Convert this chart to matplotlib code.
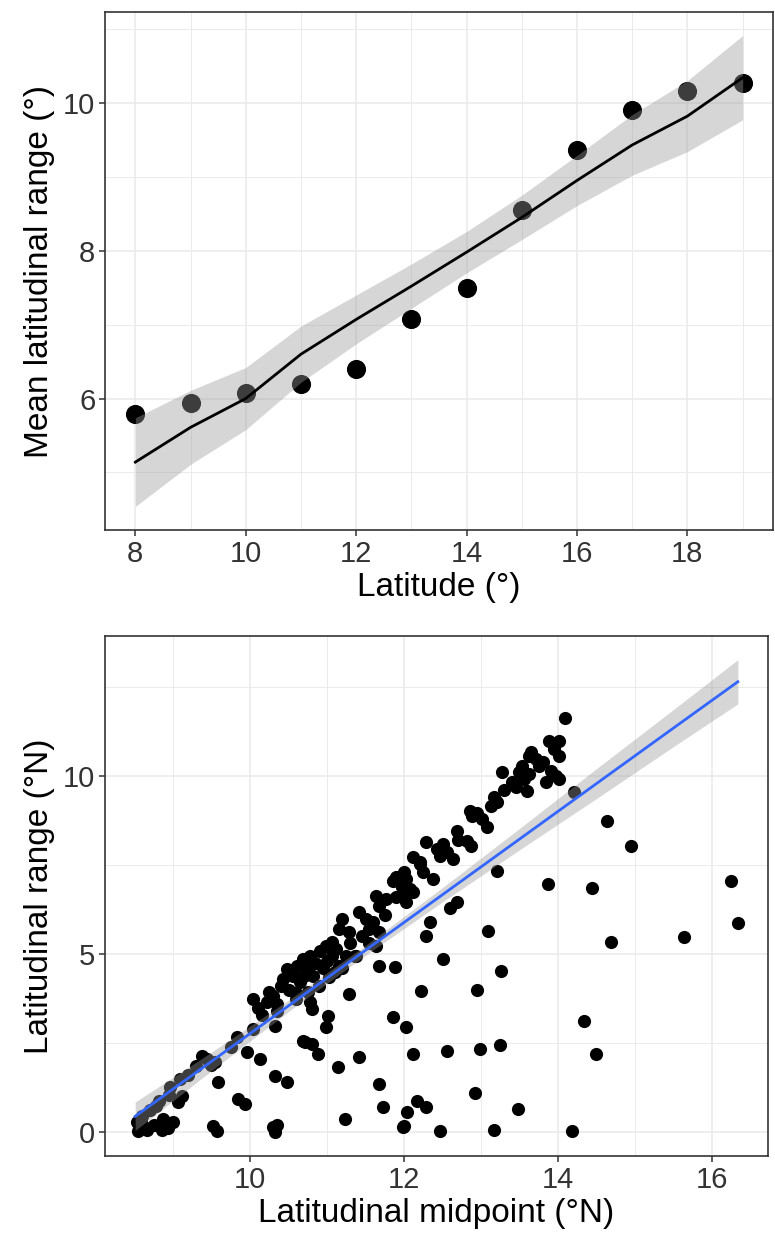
import matplotlib
matplotlib.use("Agg")
import matplotlib.pyplot as plt
from matplotlib.ticker import MultipleLocator

plt.rcParams['font.family'] = ['Liberation Sans', 'DejaVu Sans']

# ---- top panel: mean latitudinal range per latitude band
lat = [8, 9, 10, 11, 12, 13, 14, 15, 16, 17, 18, 19]
mean_range = [5.79, 5.94, 6.07, 6.19, 6.40, 7.08, 7.49, 8.55, 9.36, 9.90, 10.16, 10.27]
smooth_fit = [5.14, 5.61, 6.00, 6.60, 7.07, 7.52, 7.98, 8.45, 8.95, 9.43, 9.82, 10.34]
smooth_se = [0.60, 0.50, 0.42, 0.38, 0.33, 0.30, 0.28, 0.30, 0.34, 0.41, 0.48, 0.57]

# ---- bottom panel: species midpoint vs range
midpoint = [
    8.54, 8.55, 8.62, 8.67, 8.75, 8.86, 8.87, 8.93, 9.00, 9.07, 9.12, 8.96, 9.09,
    8.60, 8.70, 8.82, 8.95, 8.58, 8.78,
    9.38, 9.44, 9.50, 9.55, 9.59, 9.30, 9.52, 9.57,
    9.83, 9.96, 10.04, 10.13, 9.85, 9.94,
    10.32, 10.48, 10.30, 10.35, 10.32, 10.32,
    10.71, 10.80, 10.88, 10.69,
    11.14, 11.42, 11.23, 11.68, 11.72,
    11.98, 12.00, 12.04, 12.17, 12.28, 12.11, 12.46, 12.56,
    11.29, 11.86, 12.03, 12.22, 12.29, 12.50, 11.68, 11.88, 11.64,
    11.01, 10.99, 10.80, 10.78,
    12.94, 12.98, 13.25, 12.92, 13.48, 13.16, 14.18, 13.26, 14.33, 14.49,
    13.09, 13.87, 14.44, 14.68, 15.63, 16.24, 16.33, 14.20, 14.63, 14.94, 13.20, 12.68,
    10.04, 10.22, 10.30, 10.43, 10.56, 10.65, 10.82, 11.03, 10.48, 10.61, 10.74,
    10.69, 10.78, 10.91, 10.99, 11.07, 11.07, 11.25, 11.38, 11.16, 11.29, 11.55,
    11.68, 11.20, 11.42, 11.51, 11.68, 11.64, 11.77, 12.03, 12.11, 11.85, 11.97,
    11.90, 12.03, 12.07, 11.98, 12.37, 12.20,
    10.50, 10.60, 10.95, 11.10, 10.90, 11.16, 11.36, 10.15, 10.35, 9.75, 9.20,
    12.11, 12.20, 12.29, 12.42, 12.46, 12.55, 12.63, 12.69, 12.81, 12.87, 12.85,
    12.88, 13.01, 13.08, 13.13, 13.17, 13.21, 13.27, 13.40, 13.49, 13.53, 13.56,
    13.60, 13.62, 13.62, 13.71, 13.75, 13.65, 13.88, 14.01, 14.01, 13.90, 13.97,
    14.01, 14.09, 13.84, 12.33, 12.60,
    10.40, 10.55, 10.70, 10.85, 11.00, 11.12, 11.30, 11.45, 11.60, 11.75, 11.90,
    12.00, 12.25, 12.50, 12.70, 12.95, 13.30, 13.45, 13.80, 13.95, 10.25, 10.10,
    10.35, 10.60, 10.75, 11.20, 11.55,
]
lat_range = [
    0.28, 0.03, 0.15, 0.08, 0.20, 0.08, 0.37, 0.12, 0.28, 0.84, 1.01, 1.26, 1.49,
    0.45, 0.62, 0.88, 1.05, 0.33, 0.75,
    2.13, 2.05, 1.90, 1.97, 1.40, 1.85, 0.17, 0.03,
    2.67, 2.25, 2.89, 2.05, 0.93, 0.79,
    1.57, 1.40, 0.14, 0.22, 0.00, 2.98,
    2.53, 2.47, 2.19, 2.56,
    1.83, 2.11, 0.37, 1.35, 0.70,
    0.14, 0.17, 0.56, 0.87, 0.70, 2.19, 0.03, 2.28,
    3.88, 3.23, 2.95, 3.96, 5.51, 4.86, 4.66, 4.63, 5.22,
    3.26, 2.95, 3.46, 3.65,
    3.99, 2.33, 2.44, 1.10, 0.65, 0.08, 0.03, 4.52, 3.12, 2.19,
    5.65, 6.97, 6.85, 5.34, 5.48, 7.05, 5.87, 9.55, 8.74, 8.03, 7.33, 6.46,
    3.74, 3.65, 3.82, 4.30, 4.38, 4.21, 4.38, 4.35, 4.58, 4.66, 4.63,
    4.86, 4.94, 5.08, 5.22, 5.34, 4.94, 4.94, 4.94, 5.70, 5.62, 5.70,
    5.62, 5.98, 6.18, 5.98, 6.35, 6.63, 6.54, 6.46, 6.74, 7.05, 6.88,
    7.16, 7.10, 6.83, 6.63, 7.10, 7.53,
    4.00, 3.90, 4.60, 4.50, 4.10, 4.66, 4.94, 3.30, 3.60, 2.40, 1.60,
    7.72, 7.58, 8.15, 7.95, 7.75, 7.87, 7.67, 8.46, 8.17, 8.03, 9.02,
    8.88, 8.79, 8.57, 9.16, 9.41, 9.27, 10.11, 9.83, 10.11, 10.28, 9.92,
    9.58, 10.06, 10.56, 10.48, 10.28, 10.67, 10.98, 10.98, 10.56, 10.14, 10.00,
    9.92, 11.63, 9.83, 5.90, 6.30,
    4.10, 4.50, 4.40, 4.75, 4.80, 5.15, 5.30, 5.50, 5.90, 6.10, 6.60,
    7.30, 7.30, 8.10, 8.20, 8.95, 9.60, 9.70, 10.40, 10.75, 3.95, 3.50,
    3.40, 3.75, 3.95, 4.60, 5.30,
]
lm_x = [8.51, 9.5, 10.5, 11.5, 12.5, 13.5, 14.5, 15.5, 16.33]
lm_fit = [0.45, 1.99, 3.55, 5.11, 6.67, 8.23, 9.79, 11.35, 12.64]
lm_se = [0.40, 0.26, 0.16, 0.14, 0.20, 0.30, 0.42, 0.52, 0.62]

W, H = 775, 1250
fig = plt.figure(figsize=(W / 100, H / 100), dpi=100)
ax1 = fig.add_axes([105 / W, 1 - 530 / H, (773 - 105) / W, (530 - 12) / H])
ax2 = fig.add_axes([105 / W, 1 - 1156 / H, (768 - 105) / W, (1156 - 636) / H])

# top
ax1.scatter(lat, mean_range, s=190, color='black', linewidths=0, zorder=2)
lo = [f - s for f, s in zip(smooth_fit, smooth_se)]
hi = [f + s for f, s in zip(smooth_fit, smooth_se)]
ax1.fill_between(lat, lo, hi, color='#999999', alpha=0.4, linewidth=0, zorder=3)
ax1.plot(lat, smooth_fit, color='black', lw=2, zorder=4)

# bottom
ax2.scatter(midpoint, lat_range, s=90, color='black', linewidths=0, zorder=2)
lo2 = [f - s for f, s in zip(lm_fit, lm_se)]
hi2 = [f + s for f, s in zip(lm_fit, lm_se)]
ax2.fill_between(lm_x, lo2, hi2, color='#999999', alpha=0.4, linewidth=0, zorder=3)
ax2.plot(lm_x, lm_fit, color='#3366FF', lw=2, zorder=4)

ax1.xaxis.set_major_locator(MultipleLocator(2))
ax1.xaxis.set_minor_locator(MultipleLocator(1))
ax1.yaxis.set_major_locator(MultipleLocator(2))
ax1.yaxis.set_minor_locator(MultipleLocator(1))
ax2.xaxis.set_major_locator(MultipleLocator(2))
ax2.xaxis.set_minor_locator(MultipleLocator(1))
ax2.yaxis.set_major_locator(MultipleLocator(5))
ax2.yaxis.set_minor_locator(MultipleLocator(2.5))

for ax in (ax1, ax2):
    ax.grid(which='major', color='#ebebeb', lw=1.2, zorder=0)
    ax.grid(which='minor', color='#ebebeb', lw=0.7, zorder=0)
    ax.set_axisbelow(True)
    for sp in ax.spines.values():
        sp.set_color('#333333')
        sp.set_linewidth(1.2)
    ax.tick_params(which='major', length=4, width=1.1, color='#333333',
                   labelsize=21, labelcolor='#333333', pad=3)
    ax.tick_params(which='minor', length=0)

ax1.set_xlabel('Latitude (°)', fontsize=24, labelpad=3)
ax1.set_ylabel('Mean latitudinal range (°)', fontsize=24, labelpad=6)
ax2.set_xlabel('Latitudinal midpoint (°N)', fontsize=24, labelpad=3)
ax2.set_ylabel('Latitudinal range (°N)', fontsize=24, labelpad=6)

fig.savefig('out.png', dpi=100)
